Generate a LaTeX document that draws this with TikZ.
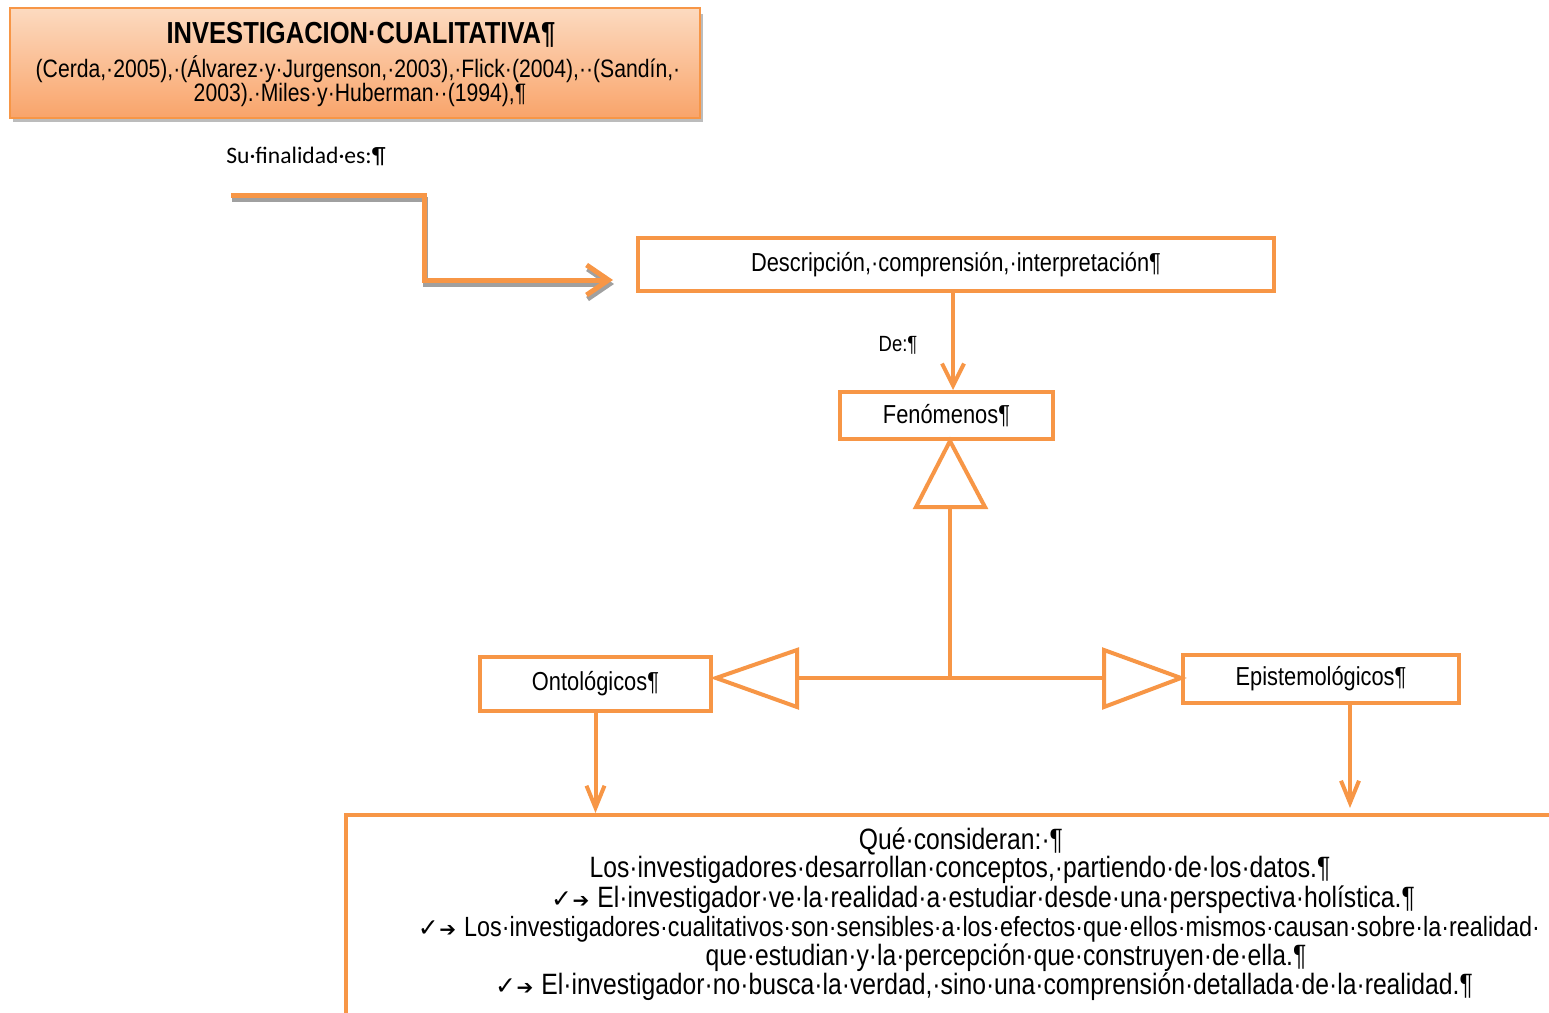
\documentclass[tikz,border=0pt]{standalone}
\usepackage{fontspec}
\setmainfont{Liberation Sans}[FakeStretch=0.84]
\newfontfamily\calib{Carlito}
\newfontfamily\djv{DejaVu Sans}
\usetikzlibrary{arrows.meta}
\definecolor{orng}{HTML}{F79646}
\definecolor{peachtop}{HTML}{FCDAC0}
\definecolor{peachbot}{HTML}{F9A46A}
\definecolor{shadowgray}{HTML}{A0A0A0}
\newcommand{\chkarr}{{\djv\fontsize{12.5}{14}\selectfont ✓\kern0.3pt{\fontsize{10}{12}\selectfont ➔}}\hspace{4pt}}
\begin{document}
\begin{tikzpicture}[x=0.5pt,y=-0.5pt,
  box/.style={draw=orng,line width=2pt,fill=white,inner sep=0pt,align=center,font=\fontsize{13}{15}\selectfont},
  conn/.style={draw=orng,line width=2pt},
  vhead/.style={-{Straight Barb[length=11pt,width=11pt]}},
  tri/.style={draw=orng,line width=2pt,fill=white,line join=miter},
  bodyline/.style={inner sep=0pt,font=\fontsize{14.7}{16}\selectfont}
]
\useasboundingbox (0,0) rectangle (1549,1013);
\clip (0,0) rectangle (1549,1013);

% title box with shadow
\fill[shadowgray!70] (13,14) rectangle (703,122);
\node[draw=orng,line width=1pt,top color=peachtop,bottom color=peachbot,
      minimum width=345pt,minimum height=55pt,inner sep=0pt] (title) at (355,63) {};
\node[inner sep=0pt,font=\fontsize{15.2}{18}\selectfont\bfseries] (ttl) at (361,35) {INVESTIGACION·CUALITATIVA¶};
\node[inner sep=0pt,font=\fontsize{12.6}{12}\selectfont] (ref1) at (358,69) {(Cerda,·2005),·(Álvarez·y·Jurgenson,·2003),·Flick·(2004),··(Sandín,·};
\node[inner sep=0pt,font=\fontsize{12.6}{12}\selectfont] (ref2) at (360,95) {2003).·Miles·y·Huberman··(1994),¶};

% label
\node[inner sep=0pt,font=\calib\fontsize{11.8}{13}\selectfont] (fin) at (306,156) {Su·finalidad·es:¶};

% boxes
\node[box,minimum width=318pt,minimum height=26.5pt] (desc) at (956,264.5) {Descripción,·comprensión,·interpretación¶};
\node[box,minimum width=106.5pt,minimum height=23.5pt] (fen) at (946.5,415.5) {Fenómenos¶};
\node[box,minimum width=115.5pt,minimum height=27pt] (ont) at (595.5,684) {Ontológicos¶};
\node[box,minimum width=138pt,minimum height=24pt] (epi) at (1321,679) {Epistemológicos¶};
\node[box,minimum width=630pt,minimum height=125pt] (bot) at (976,940) {};

% elbow arrow
\coordinate (e0) at (231,195);
\coordinate (e1) at (424,280);
\coordinate (e2) at (613,280);
\draw[shadowgray,line width=2.5pt,-{Straight Barb[length=11pt,width=15pt]}] ([shift={(1,4)}]e0) -| ([shift={(1,4)}]e1) -- ([shift={(1,4)}]e2);
\draw[orng,line width=2.5pt,-{Straight Barb[length=11pt,width=15pt]}] (e0) -| (e1) -- (e2);

% desc -> fen
\draw[conn,vhead] (desc.south -| 953,0) -- (fen.north -| 953,0);
\node[inner sep=0pt,font=\fontsize{11}{12}\selectfont] (de) at (898,345) {De:¶};

% generalization
\coordinate (jn) at (950,678);
\coordinate (tb) at (950,507);
\draw[conn] (jn) -- (tb);
\draw[conn] (797,678) -- (1104,678);
\draw[tri] (950,441) -- (916,507) -- (985,507) -- cycle;
\draw[tri] (716,678) -- (797,650) -- (797,707) -- cycle;
\draw[tri] (1181,678) -- (1104,650) -- (1104,707) -- cycle;

% down arrows
\draw[conn,-{Straight Barb[length=11pt,width=9pt]}] (ont.south) -- (ont.south |- bot.north);
\draw[conn,-{Straight Barb[length=11pt,width=9pt]}] (epi.south -| 1350,0) -- (1350,808);

% body text
\node[bodyline] (l1) at (961,841) {Qué·consideran:·¶};
\node[bodyline] (l2) at (960,870) {Los·investigadores·desarrollan·conceptos,·partiendo·de·los·datos.¶};
\node[bodyline] (l3) at (983,900) {\chkarr El·investigador·ve·la·realidad·a·estudiar·desde·una·perspectiva·holística.¶};
\node[bodyline,font=\fontsize{13.9}{16}\selectfont] (l4) at (979,929) {\chkarr Los·investigadores·cualitativos·son·sensibles·a·los·efectos·que·ellos·mismos·causan·sobre·la·realidad·};
\node[bodyline] (l5) at (1006,958) {que·estudian·y·la·percepción·que·construyen·de·ella.¶};
\node[bodyline] (l6) at (984,987) {\chkarr El·investigador·no·busca·la·verdad,·sino·una·comprensión·detallada·de·la·realidad.¶};
\end{tikzpicture}
\end{document}
